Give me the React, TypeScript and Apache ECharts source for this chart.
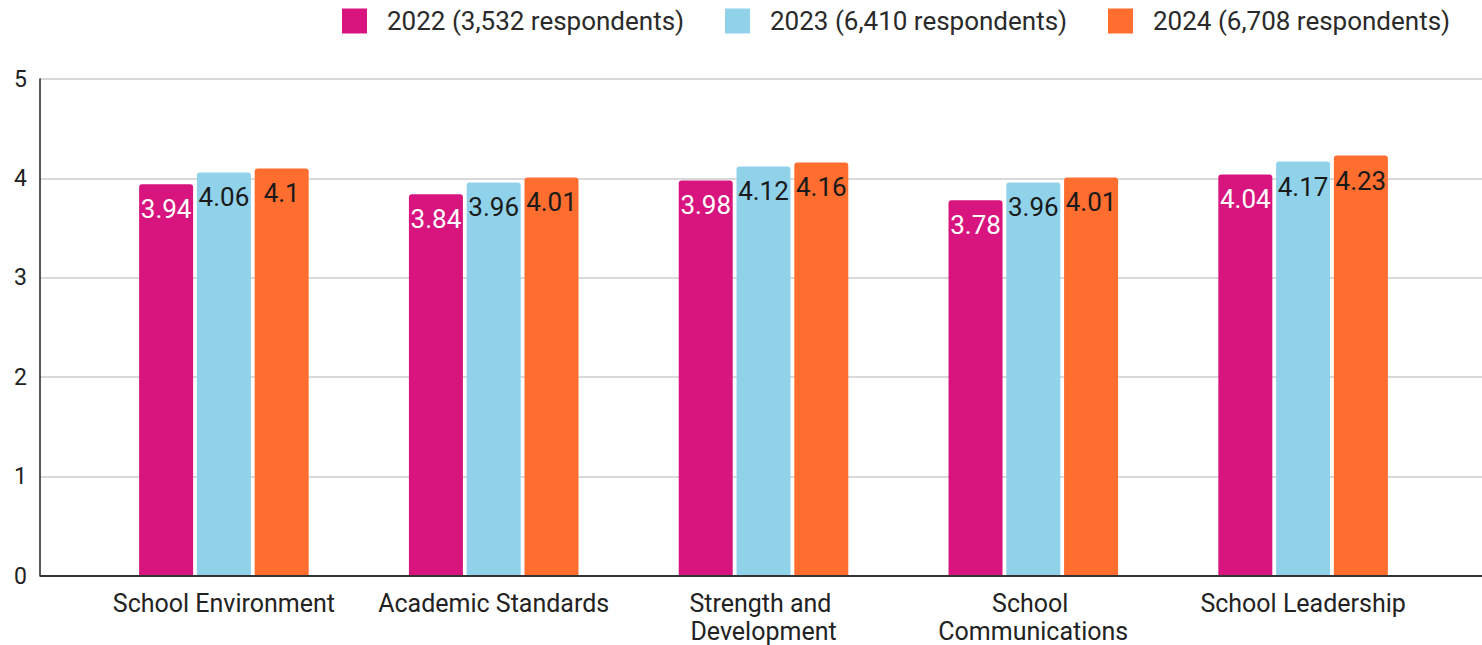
import React, { useEffect, useRef } from "react";
import * as echarts from "echarts";

const categories = [
  "School Environment",
  "Academic Standards",
  "Strength and Development",
  "School Communications",
  "School Leadership",
];
const seriesNames = [
  "2022 (3,532 respondents)",
  "2023 (6,410 respondents)",
  "2024 (6,708 respondents)",
];
const values2022 = [3.94, 3.84, 3.98, 3.78, 4.04];
const values2023 = [4.06, 3.96, 4.12, 3.96, 4.17];
const values2024 = [4.1, 4.01, 4.16, 4.01, 4.23];
const colors = ["#d8157f", "#8fd2ea", "#ff6d2f"];
const labelColors = ["#ffffff", "#1a1a1a", "#1a1a1a"];
const yTicks = [0, 1, 2, 3, 4, 5];
const legendLefts = [342, 725, 1108];

const FONT = "Roboto, 'Liberation Sans', sans-serif";

export default function App() {
  const ref = useRef<HTMLDivElement>(null);
  useEffect(() => {
    if (!ref.current) return;
    const chart = echarts.init(ref.current, undefined, { renderer: "svg" });
    const all = [values2022, values2023, values2024];
    chart.setOption({
      animation: false,
      backgroundColor: "#ffffff",
      color: colors,
      legend: seriesNames.map((n, i) => ({
        top: 8,
        left: legendLefts[i],
        padding: 0,
        itemWidth: 25,
        itemHeight: 25,
        icon: "rect",
        itemStyle: { borderRadius: 2 },
        textStyle: { fontFamily: FONT, fontSize: 26, color: "#2a2a2a", padding: [0, 0, 0, 15] },
        data: [n],
      })),
      grid: [
        { left: 40, right: 0, top: 79, bottom: 69, containLabel: false },
        { left: 89, right: 44, top: 79, bottom: 69, containLabel: false },
      ],
      xAxis: [
        {
          type: "value",
          gridIndex: 0,
          min: 0,
          max: 1,
          axisLine: { show: false },
          axisTick: { show: false },
          axisLabel: { show: false },
          splitLine: { show: false },
        },
        {
          type: "category",
          gridIndex: 1,
          data: categories,
          axisLine: { show: false },
          axisTick: { show: false },
          axisLabel: {
            fontFamily: FONT,
            fontSize: 25,
            color: "#222",
            margin: 13,
            lineHeight: 28,
            width: 258,
            overflow: "break",
            interval: 0,
          },
        },
      ],
      yAxis: [
        {
          type: "value",
          gridIndex: 0,
          min: yTicks[0],
          max: yTicks[yTicks.length - 1],
          interval: 1,
          axisLine: { show: true, lineStyle: { color: "#222", width: 1.5 } },
          axisTick: { show: false },
          axisLabel: { fontFamily: FONT, fontSize: 23, color: "#222", margin: 13 },
          splitLine: { show: true, lineStyle: { color: "#cccccc", width: 1.5 } },
        },
        {
          type: "value",
          gridIndex: 1,
          min: yTicks[0],
          max: yTicks[yTicks.length - 1],
          interval: 1,
          axisLine: { show: false },
          axisTick: { show: false },
          axisLabel: { show: false },
          splitLine: { show: false },
        },
      ],
      series: [
        ...all.map((vals, i) => ({
          type: "bar",
          name: seriesNames[i],
          xAxisIndex: 1,
          yAxisIndex: 1,
          data: vals,
          barWidth: 54,
          barGap: "7%",
          itemStyle: { color: colors[i], borderRadius: [3, 3, 0, 0] },
          label: {
            show: true,
            position: "insideTop",
            distance: 12,
            fontFamily: FONT,
            fontSize: 26,
            color: labelColors[i],
            textBorderColor: colors[i],
            textBorderWidth: 2,
          },
        })),
        {
          type: "line",
          name: "axisbase",
          xAxisIndex: 0,
          yAxisIndex: 0,
          data: [
            [0, 0],
            [1, 0],
          ],
          symbol: "none",
          silent: true,
          lineStyle: { color: "#333", width: 2 },
          z: 5,
        },
      ],
    });
    return () => chart.dispose();
  }, []);
  return (
    <div
      ref={ref}
      style={{ position: "fixed", left: 0, top: 0, width: 1482, height: 645, background: "#fff" }}
    />
  );
}
